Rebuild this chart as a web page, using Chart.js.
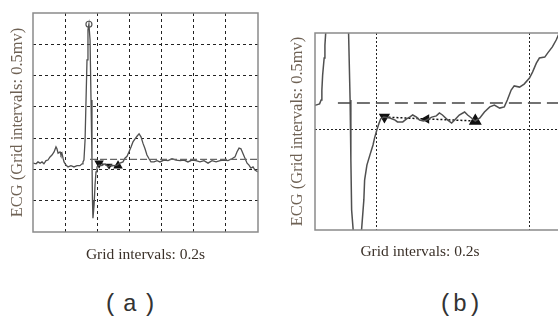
<!DOCTYPE html>
<html>
<head>
<meta charset="utf-8">
<script src="https://cdn.jsdelivr.net/npm/chart.js@4"></script>
<style>
  html, body { margin: 0; padding: 0; background: #fff; }
  body { width: 558px; height: 320px; overflow: hidden; position: relative; }
  canvas { position: absolute; top: 0; }
  #chartA { left: 0; }
  #chartB { left: 280px; }
  .panel {
    position: absolute; top: 290px; height: 30px; line-height: 30px;
    font-family: "Liberation Mono", monospace; font-size: 24px; color: #333;
    text-align: center; width: 80px;
  }
  #labelA { left: 90px; letter-spacing: 5px; text-indent: 5px; }
  #labelB { left: 420px; }
</style>
</head>
<body>
<canvas id="chartA" width="280" height="268"></canvas>
<canvas id="chartB" width="320" height="268"></canvas>
<div class="panel" id="labelA">(a)</div>
<div class="panel" id="labelB">(b)</div>

<script>
// Panel (a): full beat (s, mV)
const ecgTimeA = [0, 0.019, 0.031, 0.044, 0.056, 0.068, 0.081, 0.093, 0.106, 0.118, 0.131, 0.143, 0.149, 0.156,
  0.168, 0.174, 0.180, 0.187, 0.193, 0.205, 0.218, 0.236, 0.255, 0.274, 0.292, 0.305, 0.311, 0.317,
  0.324, 0.330, 0.336, 0.342, 0.348, 0.355, 0.361, 0.367, 0.370, 0.373, 0.380, 0.386, 0.392, 0.398,
  0.411, 0.429, 0.448, 0.467, 0.485, 0.504, 0.523, 0.541, 0.560, 0.572, 0.585, 0.597, 0.610, 0.622,
  0.635, 0.647, 0.660, 0.672, 0.684, 0.697, 0.709, 0.722, 0.734, 0.753, 0.772, 0.790, 0.815, 0.840,
  0.865, 0.890, 0.915, 0.940, 0.964, 0.989, 1.014, 1.039, 1.064, 1.089, 1.114, 1.139, 1.164, 1.188,
  1.213, 1.238, 1.257, 1.269, 1.282, 1.294, 1.307, 1.319, 1.332, 1.344, 1.356, 1.369, 1.381, 1.400];
const ecgVoltA = [0.10, 0.09, 0.12, 0.10, 0.12, 0.09, 0.14, 0.15, 0.20, 0.23, 0.28, 0.36, 0.33, 0.26,
  0.28, 0.23, 0.26, 0.18, 0.12, 0.07, 0.04, 0.06, 0.04, 0.06, 0.06, 0.09, 0.12, 0.15,
  0.47, 1.11, 1.75, 2.23, 2.32, 2.07, 1.11, 0.15, -0.49, -0.78, -0.57, -0.25, -0.04, 0.04,
  0.07, 0.06, 0.09, 0.04, 0.07, 0.06, 0.07, 0.10, 0.12, 0.18, 0.21, 0.28, 0.36, 0.44,
  0.49, 0.53, 0.57, 0.52, 0.42, 0.33, 0.23, 0.17, 0.12, 0.12, 0.14, 0.12, 0.15, 0.14,
  0.17, 0.15, 0.14, 0.15, 0.12, 0.15, 0.14, 0.12, 0.14, 0.10, 0.14, 0.12, 0.14, 0.15,
  0.14, 0.17, 0.20, 0.28, 0.34, 0.33, 0.25, 0.18, 0.10, 0.07, 0.02, 0.04, -0.01, -0.04];
const peakA = { t: 0.348, v: 2.32 };
const markTimeA = [0.411, 0.473, 0.529];
const markVoltA = [0.10, 0.06, 0.06];
const markTurnA = [180, 180, 0];
const refTimeA = [0.355, 1.4];
const refLevelA = 0.16;
const gridTimeA = [0.2, 0.4, 0.6, 0.8, 1.0, 1.2];
const gridVoltA = [-0.5, 0, 0.5, 1.0, 1.5, 2.0];

// Panel (b): zoom on the ST segment (s, mV)
const ecgTimeB = [0.115, 0.120, 0.125, 0.127, 0.128, 0.129, 0.131, 0.132, 0.133, 0.136, 0.148, 0.161, 0.163,
  0.165, 0.166, 0.167, 0.169, 0.170, 0.174, 0.178, 0.180, 0.183, 0.184, 0.187, 0.191, 0.195, 0.197,
  0.200, 0.203, 0.205, 0.209, 0.217, 0.224, 0.227, 0.234, 0.239, 0.243, 0.247, 0.252, 0.256, 0.261,
  0.265, 0.272, 0.278, 0.282, 0.286, 0.293, 0.298, 0.302, 0.308, 0.315, 0.319, 0.324, 0.329, 0.335,
  0.341, 0.348, 0.354, 0.361, 0.367, 0.371, 0.376, 0.380, 0.387, 0.393, 0.400, 0.404, 0.409, 0.413,
  0.420, 0.424, 0.430, 0.435, 0.439, 0.446];
const ecgVoltB = [0.080, 0.083, 0.087, 0.100, 0.133, 0.183, 0.240, 0.283, 0.323, 0.400, 2.2, 0.400, 0.323,
  0.100, -0.100, -0.267, -0.333, -0.433, -0.85, -0.533, -0.333, -0.233, -0.167, -0.117, -0.083, -0.050, -0.027,
  0.000, 0.023, 0.037, 0.043, 0.040, 0.033, 0.027, 0.027, 0.037, 0.043, 0.050, 0.043, 0.033, 0.030,
  0.033, 0.043, 0.047, 0.057, 0.050, 0.033, 0.023, 0.033, 0.050, 0.060, 0.050, 0.040, 0.030, 0.040,
  0.060, 0.077, 0.083, 0.073, 0.077, 0.100, 0.133, 0.147, 0.143, 0.153, 0.173, 0.193, 0.223, 0.240,
  0.243, 0.257, 0.277, 0.300, 0.323, 0.367];
const markTimeB = [0.210, 0.265, 0.329];
const markVoltB = [0.043, 0.037, 0.030];
const markTurnB = [180, -90, 0];
const refTimeB = [0.149, 0.45];
const refLevelB = 0.09;
const gridTimeB = [0.2, 0.4];
const gridVoltB = [0];

const yTitle = "ECG (Grid intervals: 0.5mv)";
const xTitle = "Grid intervals: 0.2s";

Chart.defaults.font.family = "'Liberation Serif', serif";
Chart.defaults.font.size = 15.5;

const toPoints = (ts, vs) => ts.map((t, i) => ({ x: t, y: vs[i] }));

// strokes the plot box
const frame = {
  id: "frame",
  afterDraw(chart) {
    const a = chart.chartArea;
    const ctx = chart.ctx;
    ctx.save();
    ctx.strokeStyle = "#8a8a8a";
    ctx.lineWidth = 1.5;
    ctx.strokeRect(a.left, a.top, a.right - a.left, a.bottom - a.top);
    ctx.restore();
  }
};

function gridScale(min, max, ticks, dash, extra) {
  return Object.assign({
    type: "linear",
    min: min,
    max: max,
    afterBuildTicks: s => { s.ticks = ticks.map(v => ({ value: v })); },
    ticks: { display: false },
    grid: { color: "#222", lineWidth: 1, drawTicks: false },
    border: { display: false, dash: dash }
  }, extra);
}

// (a)
new Chart(document.getElementById("chartA"), {
  type: "line",
  data: {
    datasets: [
      {
        data: refTimeA.map(t => ({ x: t, y: refLevelA })),
        borderColor: "#666", borderWidth: 1.2, borderDash: [7, 3], pointRadius: 0
      },
      {
        data: toPoints(ecgTimeA, ecgVoltA),
        borderColor: "#505050", borderWidth: 1.3, pointRadius: 0, tension: 0
      },
      {
        data: toPoints(markTimeA, markVoltA),
        borderColor: "#111", borderWidth: 1.5, borderDash: [2, 1],
        pointStyle: "triangle", pointRotation: markTurnA,
        pointRadius: [4, 2.5, 4], pointBackgroundColor: "#111", pointBorderColor: "#111"
      },
      {
        data: [{ x: peakA.t, y: peakA.v }],
        showLine: false, pointStyle: "circle", pointRadius: 3,
        pointBackgroundColor: "#fff", pointBorderColor: "#555", pointBorderWidth: 1.2
      }
    ]
  },
  options: {
    responsive: false,
    animation: false,
    devicePixelRatio: 1,
    layout: { padding: { left: 8, right: 22, top: 13, bottom: 3.7 } },
    plugins: { legend: { display: false }, tooltip: { enabled: false } },
    scales: {
      x: gridScale(0, 1.4, gridTimeA, [3, 3], {
        title: { display: true, text: xTitle, color: "#3b3129", padding: { top: 13.7, bottom: 0 } }
      }),
      y: gridScale(-1, 2.5, gridVoltA, [3, 3], {
        title: {
          display: true, text: yTitle, color: "#6e6154", font: { size: 16.5 },
          padding: { top: 0.1, bottom: 5.1 }
        }
      })
    }
  },
  plugins: [frame]
});

// (b)
new Chart(document.getElementById("chartB"), {
  type: "line",
  data: {
    datasets: [
      {
        data: refTimeB.map(t => ({ x: t, y: refLevelB })),
        borderColor: "#444", borderWidth: 1.5, borderDash: [13, 6], pointRadius: 0
      },
      {
        data: toPoints(ecgTimeB, ecgVoltB),
        borderColor: "#505050", borderWidth: 1.5, pointRadius: 0, tension: 0
      },
      {
        data: toPoints(markTimeB, markVoltB),
        borderColor: "#111", borderWidth: 1.5, borderDash: [2, 2],
        pointStyle: "triangle", pointRotation: markTurnB,
        pointRadius: [5, 4, 6], pointBackgroundColor: "#111", pointBorderColor: "#111"
      }
    ]
  },
  options: {
    responsive: false,
    animation: false,
    devicePixelRatio: 1,
    layout: { padding: { left: 0, right: 40, top: 33, bottom: 6.7 } },
    plugins: {
      legend: { display: false },
      tooltip: { enabled: false },
      title: {
        display: true, position: "bottom", text: xTitle, color: "#3b3129",
        font: { weight: "normal", size: 15.5 }, padding: { top: 12.7, bottom: 0 }
      }
    },
    scales: {
      x: gridScale(0.119, 0.44, gridTimeB, [2, 2], {}),
      y: gridScale(-0.3333, 0.3233, gridVoltB, [2, 2], {
        title: {
          display: true, text: yTitle, color: "#6e6154", font: { size: 16.5 },
          padding: { top: 8.1, bottom: 7.1 }
        }
      })
    }
  },
  plugins: [frame]
});
</script>
</body>
</html>
